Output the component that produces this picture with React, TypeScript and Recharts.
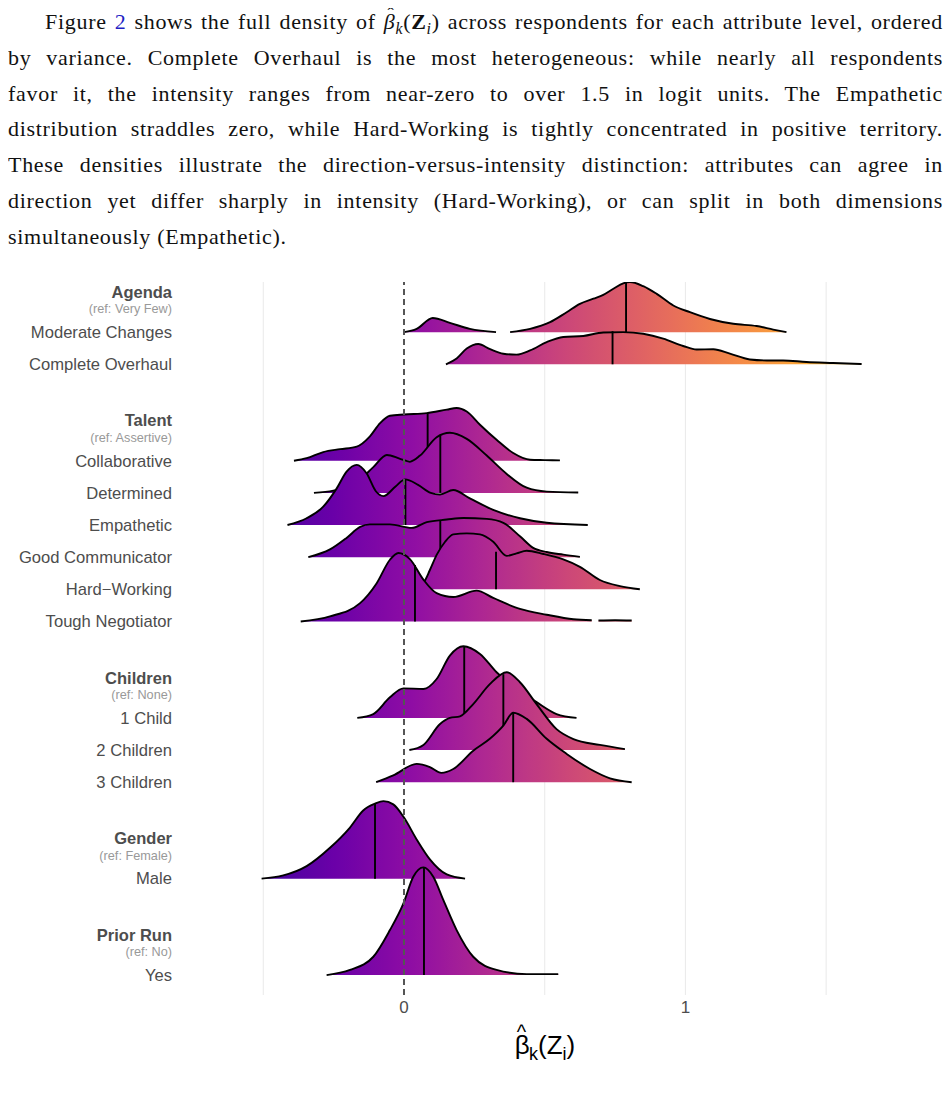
import React from "react";
import { ComposedChart, Area, XAxis, YAxis, ReferenceLine } from "recharts";

type Pt = [number, number | null];

// density curves: [beta_k(Z_i), density height in row units]
const moderateChanges: Pt[] = [
  [0, 0], [0.045, 0.1], [0.102, 0.44], [0.163, 0.29], [0.234, 0.1], [0.327, 0],
  [0.35, null],
  [0.377, 0], [0.448, 0.1], [0.519, 0.31], [0.578, 0.62], [0.625, 0.88], [0.673, 1.04],
  [0.708, 1.16], [0.744, 1.35], [0.779, 1.52], [0.803, 1.56], [0.85, 1.43], [0.898, 1.19],
  [0.957, 0.83], [1.016, 0.62], [1.087, 0.41], [1.17, 0.26], [1.253, 0.19], [1.312, 0.08], [1.359, 0],
];
const completeOverhaul: Pt[] = [
  [0.149, 0], [0.187, 0.18], [0.223, 0.49], [0.264, 0.63], [0.306, 0.47], [0.353, 0.33],
  [0.4, 0.3], [0.448, 0.43], [0.507, 0.69], [0.566, 0.85], [0.637, 0.88], [0.708, 0.99],
  [0.779, 1.0], [0.85, 0.95], [0.921, 0.8], [0.992, 0.57], [1.04, 0.46], [1.099, 0.47],
  [1.158, 0.33], [1.229, 0.15], [1.29, 0.12], [1.347, 0.12], [1.43, 0.07], [1.525, 0.04], [1.626, 0.01],
];
const collaborative: Pt[] = [
  [-0.391, 0], [-0.346, 0.08], [-0.287, 0.27], [-0.227, 0.36], [-0.168, 0.44], [-0.121, 0.76],
  [-0.085, 1.17], [-0.05, 1.4], [0, 1.44], [0.081, 1.48], [0.152, 1.59], [0.187, 1.64],
  [0.223, 1.53], [0.27, 1.12], [0.329, 0.65], [0.388, 0.24], [0.448, 0.03], [0.5, 0.02], [0.554, 0.01],
];
const determined: Pt[] = [
  [-0.32, 0], [-0.251, 0.07], [-0.168, 0.33], [-0.109, 0.8], [-0.061, 1.18], [-0.014, 1.06],
  [0.021, 0.97], [0.057, 1.16], [0.116, 1.73], [0.163, 1.87], [0.223, 1.68], [0.294, 1.16],
  [0.365, 0.59], [0.436, 0.16], [0.507, 0.04], [0.619, 0.01],
];
const empathetic: Pt[] = [
  [-0.414, 0], [-0.346, 0.21], [-0.287, 0.57], [-0.239, 1.14], [-0.204, 1.66], [-0.168, 1.87],
  [-0.133, 1.61], [-0.1, 1.05], [-0.073, 0.9], [-0.03, 1.2], [0.004, 1.42], [0.05, 1.25],
  [0.095, 1.0], [0.128, 0.95], [0.175, 1.09], [0.234, 0.83], [0.317, 0.47], [0.412, 0.21],
  [0.507, 0.07], [0.653, 0],
];
const goodCommunicator: Pt[] = [
  [-0.34, 0], [-0.263, 0.24], [-0.204, 0.6], [-0.156, 0.94], [-0.121, 1.02], [-0.05, 1.02],
  [0.027, 0.91], [0.081, 1.09], [0.152, 1.17], [0.211, 1.22], [0.294, 1.19], [0.353, 1.07],
  [0.412, 0.65], [0.459, 0.29], [0.507, 0.16], [0.566, 0.08], [0.625, 0.01],
];
const hardWorking: Pt[] = [
  [-0.014, 0], [0.028, 0.06], [0.071, 0.24], [0.092, 0.6], [0.116, 1.07], [0.146, 1.48],
  [0.175, 1.71], [0.223, 1.74], [0.27, 1.71], [0.317, 1.48], [0.365, 1.04], [0.4, 1.12],
  [0.436, 1.2], [0.495, 1.1], [0.566, 0.93], [0.625, 0.7], [0.696, 0.29], [0.767, 0.1], [0.838, 0],
];
const toughNegotiator: Pt[] = [
  [-0.367, 0], [-0.263, 0.16], [-0.156, 0.57], [-0.097, 1.19], [-0.05, 1.92], [-0.02, 2.13],
  [0.021, 1.94], [0.069, 1.3], [0.116, 0.88], [0.175, 0.76], [0.258, 0.96], [0.317, 0.73],
  [0.412, 0.39], [0.507, 0.21], [0.602, 0.07], [0.667, 0.04],
  [0.68, null],
  [0.691, 0.03], [0.75, 0.04], [0.809, 0.03],
];
const oneChild: Pt[] = [
  [-0.166, 0], [-0.109, 0.12], [-0.05, 0.64], [-0.002, 0.92], [0.069, 0.9], [0.116, 1.21],
  [0.163, 1.94], [0.211, 2.23], [0.27, 1.99], [0.329, 1.42], [0.4, 0.9], [0.471, 0.49],
  [0.542, 0.12], [0.613, 0],
];
const twoChildren: Pt[] = [
  [0.019, 0], [0.069, 0.16], [0.128, 0.81], [0.163, 1.0], [0.199, 1.05], [0.246, 1.43],
  [0.305, 2.05], [0.365, 2.42], [0.412, 2.11], [0.471, 1.43], [0.542, 0.65], [0.602, 0.34],
  [0.696, 0.16], [0.785, 0.03],
];
const threeChildren: Pt[] = [
  [-0.099, 0], [-0.038, 0.21], [0.045, 0.57], [0.092, 0.47], [0.133, 0.29], [0.175, 0.41],
  [0.246, 0.98], [0.305, 1.35], [0.353, 1.76], [0.388, 2.16], [0.436, 1.97], [0.507, 1.35],
  [0.578, 0.88], [0.661, 0.41], [0.732, 0.12], [0.809, 0],
];
const male: Pt[] = [
  [-0.506, 0], [-0.429, 0.1], [-0.346, 0.39], [-0.263, 0.96], [-0.192, 1.59], [-0.145, 2.12],
  [-0.103, 2.33], [-0.073, 2.41], [-0.038, 2.31], [0, 1.9], [0.045, 1.22], [0.092, 0.6],
  [0.152, 0.13], [0.217, 0],
];
const priorRunYes: Pt[] = [
  [-0.275, 0], [-0.192, 0.16], [-0.109, 0.57], [-0.05, 1.4], [-0.002, 2.23], [0.033, 3.06],
  [0.069, 3.35], [0.104, 3.06], [0.14, 2.33], [0.187, 1.4], [0.246, 0.57], [0.329, 0.16],
  [0.436, 0.03], [0.548, 0.03],
];

const groups = [
  { title: "Agenda", ref: "Very Few", levels: ["Moderate Changes", "Complete Overhaul"] },
  {
    title: "Talent",
    ref: "Assertive",
    levels: ["Collaborative", "Determined", "Empathetic", "Good Communicator", "Hard\u2212Working", "Tough Negotiator"],
  },
  { title: "Children", ref: "None", levels: ["1 Child", "2 Children", "3 Children"] },
  { title: "Gender", ref: "Female", levels: ["Male"] },
  { title: "Prior Run", ref: "No", levels: ["Yes"] },
];

const levelDensities: Pt[][] = [
  moderateChanges, completeOverhaul,
  collaborative, determined, empathetic, goodCommunicator, hardWorking, toughNegotiator,
  oneChild, twoChildren, threeChildren,
  male,
  priorRunYes,
];
// per-level median (vertical line) and the density height where it meets the curve
const medianX = [0.789, 0.741, 0.084, 0.129, 0.005, 0.129, 0.327, 0.039, 0.214, 0.353, 0.388, -0.103, 0.071];
const medianTop = [1.55, 1.03, 1.48, 1.78, 1.42, 1.15, 1.17, 1.76, 2.23, 2.36, 2.15, 2.33, 3.35];

const xTicks = [0, 1];
const gridValues = [-0.5, 0.5, 1, 1.5];

type Row = { kind: "header" | "level" | "blank"; label: string; ref?: string; level?: number };
const rows: Row[] = [];
let levelIdx = 0;
groups.forEach((g, gi) => {
  if (gi > 0) rows.push({ kind: "blank", label: "" });
  rows.push({ kind: "header", label: g.title, ref: g.ref });
  g.levels.forEach((l) => rows.push({ kind: "level", label: l, level: levelIdx++ }));
});
const rowPos = (i: number) => rows.length - 1 - i;
const rowByPos = new Map<number, Row>();
rows.forEach((r, i) => rowByPos.set(rowPos(i), r));
const yTicks = rows.map((r, i) => (r.kind === "blank" ? null : rowPos(i))).filter((v) => v !== null) as number[];

const ridges = rows
  .map((r, i) => ({ r, pos: rowPos(i) }))
  .filter((o) => o.r.kind === "level")
  .map(({ r, pos }) => {
    const k = r.level as number;
    const pts = levelDensities[k];
    const xs = pts.map((p) => p[0]);
    return {
      k,
      pos,
      xmin: Math.min(...xs),
      xmax: Math.max(...xs),
      data: pts.map(([x, h]) => ({ x, y: h === null ? null : pos + h })),
      median: [
        { x: medianX[k], y: pos },
        { x: medianX[k], y: pos + medianTop[k] },
      ],
    };
  });

const PLASMA = [
  "#0d0887", "#41049d", "#6a00a8", "#8f0da4", "#b12a90", "#cc4778",
  "#e16462", "#f2844b", "#fca636", "#fcce25", "#f0f921",
];
function plasma(t: number) {
  const c = Math.max(0, Math.min(1, t)) * 10;
  const i = Math.min(9, Math.floor(c));
  const f = c - i;
  const a = PLASMA[i], b = PLASMA[i + 1];
  const ch = (h: string, o: number) => parseInt(h.slice(o, o + 2), 16);
  const mix = [1, 3, 5].map((o) => Math.round(ch(a, o) + (ch(b, o) - ch(a, o)) * f));
  return `rgb(${mix.join(",")})`;
}
const fillT = (x: number) => 0.11 + (x + 0.5) * 0.36;

const SANS = '"Liberation Sans", Arial, Helvetica, sans-serif';

function YTick(props: any) {
  const { x, y, payload } = props;
  const row = rowByPos.get(payload.value);
  if (!row) return null;
  if (row.kind === "header") {
    return (
      <g>
        <text x={x} y={y - 8} dy="0.35em" textAnchor="end" fontFamily={SANS} fontWeight="bold" fontSize={16.5} fill="#4d4d4d">
          {row.label}
        </text>
        <text x={x} y={y + 9} dy="0.35em" textAnchor="end" fontFamily={SANS} fontSize={12.7} fill="#999999">
          (ref: {row.ref})
        </text>
      </g>
    );
  }
  return (
    <text x={x} y={y} dy="0.35em" textAnchor="end" fontFamily={SANS} fontSize={16.6} fill="#4d4d4d">
      {row.label}
    </text>
  );
}

function XTitle(props: any) {
  const { x, y, width } = props.viewBox;
  return (
    <text x={x + width / 2} y={y + 59} textAnchor="middle" fontFamily={SANS} fontSize={26} fill="#000">
      <tspan>{"\u03b2"}</tspan>
      <tspan fontSize={20} dx={-13} dy={-15}>^</tspan>
      <tspan fontSize={18} dx={3} dy={21}>k</tspan>
      <tspan dy={-6}>(Z</tspan>
      <tspan fontSize={18} dy={6}>i</tspan>
      <tspan dy={-6}>)</tspan>
    </text>
  );
}

const sub: React.CSSProperties = { fontSize: "0.72em", position: "relative", top: "0.3em", lineHeight: 0 };
const line: React.CSSProperties = { textAlign: "justify", textAlignLast: "justify", height: 35.8, lineHeight: "35.8px" };

function BetaHat() {
  return (
    <span style={{ position: "relative", display: "inline-block", textIndent: 0 }}>
      <i>{"\u03b2"}</i>
      <span style={{ position: "absolute", left: "0.2em", top: "-0.42em", fontSize: "0.85em", lineHeight: "35.8px" }}>
        {"\u02c6"}
      </span>
    </span>
  );
}

export default function App() {
  return (
    <div style={{ position: "relative", width: 935, height: 1082 }}>
      <div
        style={{
          position: "absolute",
          top: -4,
          left: 0,
          width: 935,
          fontFamily: '"Liberation Serif", "Times New Roman", serif',
          fontSize: 22,
          letterSpacing: 0.7,
          color: "#111",
        }}
      >
        <div style={{ ...line, textIndent: 37 }}>
          Figure <span style={{ color: "#1f1fc4" }}>2</span> shows the full density of <BetaHat />
          <span style={sub}><i>k</i></span>(<b>Z</b>
          <span style={sub}><i>i</i></span>) across respondents for each attribute level, ordered
        </div>
        <div style={line}>by variance. Complete Overhaul is the most heterogeneous: while nearly all respondents</div>
        <div style={line}>favor it, the intensity ranges from near-zero to over 1.5 in logit units. The Empathetic</div>
        <div style={line}>distribution straddles zero, while Hard-Working is tightly concentrated in positive territory.</div>
        <div style={line}>These densities illustrate the direction-versus-intensity distinction: attributes can agree in</div>
        <div style={line}>direction yet differ sharply in intensity (Hard-Working), or can split in both dimensions</div>
        <div style={{ ...line, textAlign: "left", textAlignLast: "left" }}>simultaneously (Empathetic).</div>
      </div>

      <div style={{ position: "absolute", top: 262, left: 0 }}>
        <ComposedChart width={935} height={795} margin={{ top: 12, right: 31, bottom: 0, left: 0 }}>
          <defs>
            {ridges.map((rd) => (
              <linearGradient key={rd.k} id={`ridge${rd.k}`} x1="0" y1="0" x2="1" y2="0">
                {Array.from({ length: 21 }, (_, s) => {
                  const off = s / 20;
                  const xv = rd.xmin + off * (rd.xmax - rd.xmin);
                  return <stop key={s} offset={off} stopColor={plasma(fillT(xv))} />;
                })}
              </linearGradient>
            ))}
          </defs>
          <XAxis
            type="number"
            dataKey="x"
            domain={[-0.803, 1.805]}
            allowDataOverflow
            ticks={xTicks}
            axisLine={false}
            tickLine={false}
            tickMargin={0}
            height={70}
            tick={{ fontSize: 17, fill: "#4d4d4d", fontFamily: SANS }}
            label={<XTitle />}
          />
          <YAxis
            type="number"
            domain={[-0.62, 21.56]}
            allowDataOverflow
            ticks={yTicks}
            interval={0}
            width={170}
            axisLine={false}
            tickLine={false}
            tickMargin={0}
            tick={<YTick />}
          />
          {gridValues.map((v) => (
            <ReferenceLine key={v} x={v} stroke="#ebebeb" strokeWidth={1.1} zIndex={-50} />
          ))}
          {ridges.flatMap((rd) => [
            <Area
              key={`a${rd.k}`}
              data={rd.data}
              dataKey="y"
              type="monotone"
              baseValue={rd.pos}
              stroke="#000"
              strokeWidth={1.9}
              fill={`url(#ridge${rd.k})`}
              fillOpacity={1}
              connectNulls={false}
              dot={false}
              activeDot={false}
              isAnimationActive={false}
            />,
            <Area
              key={`m${rd.k}`}
              data={rd.median}
              dataKey="y"
              type="linear"
              baseValue={rd.pos}
              stroke="#000"
              strokeWidth={1.9}
              fill="none"
              dot={false}
              activeDot={false}
              isAnimationActive={false}
            />,
          ])}
          <ReferenceLine x={0} stroke="#555555" strokeWidth={2} strokeDasharray="6 4" zIndex={1000} />
        </ComposedChart>
      </div>
    </div>
  );
}
